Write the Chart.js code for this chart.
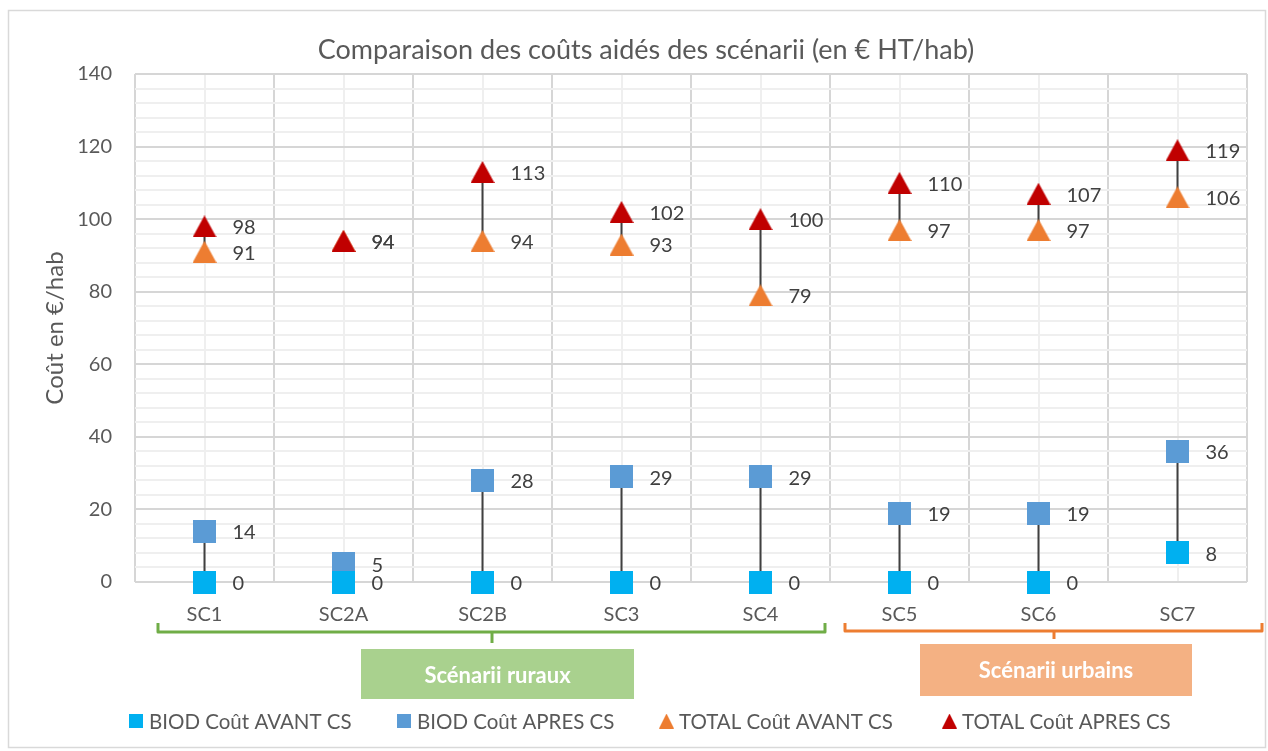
<!DOCTYPE html>
<html><head><meta charset="utf-8">
<script src="https://cdn.jsdelivr.net/npm/chart.js@4/dist/chart.umd.min.js"></script>
<style>html,body{margin:0;padding:0;background:#fff}#wrap{width:1268px;height:751px;position:relative}</style>
</head><body><div id="wrap"><canvas id="c"></canvas></div>
<script>
const categories = ['SC1','SC2A','SC2B','SC3','SC4','SC5','SC6','SC7'];
const biodAvant  = [0, 0, 0, 0, 0, 0, 0, 8];
const biodApres  = [14, 5, 28, 29, 29, 19, 19, 36];
const totalAvant = [91, 94, 94, 93, 79, 97, 97, 106];
const totalApres = [98, 94, 113, 102, 100, 110, 107, 119];
const yTickLabels = [0, 20, 40, 60, 80, 100, 120, 140];
const seriesNames = ['BIOD Coût AVANT CS','BIOD Coût APRES CS','TOTAL Coût AVANT CS','TOTAL Coût APRES CS'];
const groupLabels = ['Scénarii ruraux','Scénarii urbains'];
const chartTitle = 'Comparaison des coûts aidés des scénarii (en € HT/hab)';
const yTitle = 'Coût en €/hab';

const COL = {cyan:'#00b0f0', blue:'#5b9bd5', orange:'#ed7d31', red:'#c00000'};
const FONT = 'Lato';
const TXT = '#595959';

function marker(shape, color, w, h){
  const c = document.createElement('canvas'); c.width = w; c.height = h;
  const x = c.getContext('2d'); x.fillStyle = color;
  if (shape === 'sq') x.fillRect(0,0,w,h);
  else { x.beginPath(); x.moveTo(w/2,0); x.lineTo(w,h); x.lineTo(0,h); x.closePath(); x.fill(); }
  return c;
}
const styles = [marker('sq',COL.cyan,23,23), marker('sq',COL.blue,23,23), marker('tri',COL.orange,24,22), marker('tri',COL.red,24,22)];
const legendStyles = [marker('sq',COL.cyan,14,14), marker('sq',COL.blue,14,14), marker('tri',COL.orange,15,15), marker('tri',COL.red,15,15)];
const seriesVals = [biodAvant, biodApres, totalAvant, totalApres];

const pts = arr => arr.map((v,i)=>({x:i,y:v}));
const conn = (a,b) => a.flatMap((v,i)=>[{x:i,y:a[i]},{x:i,y:b[i]},{x:i,y:null}]);

const markerOrders = [1,2,2,1];
const datasets = seriesVals.map((arr,k)=>({
  label: seriesNames[k], data: pts(arr), pointStyle: styles[k], pointRadius: 11,
  showLine:false, order: markerOrders[k], clip:false
}));
datasets.push({label:'_c1', data: conn(biodAvant, biodApres), showLine:true, pointRadius:0, borderColor:'#404040', borderWidth:2, spanGaps:false, order:5, clip:false});
datasets.push({label:'_c2', data: conn(totalAvant, totalApres), showLine:true, pointRadius:0, borderColor:'#404040', borderWidth:2, spanGaps:false, order:5, clip:false});

const extras = {
  id:'extras',
  beforeDraw(chart){
    const ctx = chart.ctx;
    ctx.save(); ctx.fillStyle='#fff'; ctx.fillRect(0,0,chart.width,chart.height);
    ctx.strokeStyle='#d9d9d9'; ctx.lineWidth=1.5; ctx.strokeRect(8.5,10.5,1257,737);
    ctx.restore();
  },
  afterDatasetsDraw(chart){
    const ctx = chart.ctx; ctx.save();
    ctx.font = `20px ${FONT}`; ctx.fillStyle='#404040'; ctx.textAlign='left'; ctx.textBaseline='middle';
    for (let k=0;k<4;k++){
      const meta = chart.getDatasetMeta(k);
      meta.data.forEach((p,i)=>{ ctx.fillText(String(seriesVals[k][i]), p.x+28, p.y+1.5); });
    }
    ctx.restore();
  },
  afterDraw(chart){
    const ctx = chart.ctx; ctx.save();
    // title
    ctx.font = `27px ${FONT}`; ctx.fillStyle=TXT; ctx.textAlign='center'; ctx.textBaseline='middle';
    ctx.fillText(chartTitle, 646, 50);
    // brackets
    ctx.lineWidth=3; ctx.lineJoin='round'; ctx.lineCap='butt';
    ctx.strokeStyle='#70ad47';
    ctx.beginPath(); ctx.moveTo(158,623); ctx.lineTo(158,632); ctx.lineTo(825,632); ctx.lineTo(825,623); ctx.stroke();
    ctx.beginPath(); ctx.moveTo(492,632); ctx.lineTo(492,643); ctx.stroke();
    ctx.strokeStyle='#ed7d31';
    ctx.beginPath(); ctx.moveTo(845,623); ctx.lineTo(845,631); ctx.lineTo(1262,631); ctx.lineTo(1262,623); ctx.stroke();
    ctx.beginPath(); ctx.moveTo(1054,631); ctx.lineTo(1054,639); ctx.stroke();
    // boxes
    ctx.fillStyle='#a9d18e'; ctx.fillRect(361,649,273,50);
    ctx.fillStyle='#f4b183'; ctx.fillRect(920,644,272,52);
    ctx.font = `bold 22px ${FONT}`; ctx.fillStyle='#fff';
    ctx.fillText(groupLabels[0], 497.5, 676);
    ctx.fillText(groupLabels[1], 1056, 671);
    // legend
    const lx = [129, 397, 659, 942];
    ctx.font = `20.5px ${FONT}`; ctx.textAlign='left';
    for (let k=0;k<4;k++){
      const s = legendStyles[k];
      ctx.drawImage(s, lx[k], 721 - s.height/2);
      ctx.fillStyle=TXT; ctx.fillText(seriesNames[k], lx[k]+20, 722);
    }
    ctx.restore();
  }
};

const isInt = v => Math.abs(v - Math.round(v)) < 1e-9;

function build(){
  new Chart(document.getElementById('c'), {
    type:'scatter',
    data:{datasets},
    options:{
      responsive:true, maintainAspectRatio:false, animation:false, events:[],
      layout:{padding:{top:74,right:14,bottom:0,left:0}},
      plugins:{legend:{display:false}, tooltip:{enabled:false}, title:{display:false}},
      scales:{
        x:{type:'linear', min:-0.5, max:7.5,
          afterFit(s){ s.height = 169; },
          border:{display:false},
          grid:{drawTicks:false, lineWidth:2, color: c => isInt(c.tick.value) ? '#efefef' : '#d6d6d6'},
          ticks:{stepSize:0.5, autoSkip:false, maxRotation:0, padding:21, color:TXT, font:{family:FONT,size:20},
            callback: v => isInt(v) && categories[Math.round(v)] !== undefined ? categories[Math.round(v)] : ''}
        },
        y:{type:'linear', min:0, max:140,
          afterFit(s){ s.width = 135; },
          border:{display:false},
          grid:{drawTicks:false, lineWidth:2, color: c => (c.tick.value % 20 === 0) ? '#d6d6d6' : '#efefef'},
          ticks:{stepSize:4, autoSkip:false, padding:23, color:TXT, font:{family:FONT,size:20},
            callback: v => yTickLabels.includes(v) ? String(v) : ''},
          title:{display:true, text:yTitle, color:TXT, font:{family:FONT,size:24}, padding:{top:41,bottom:0}}
        }
      }
    },
    plugins:[extras]
  });
}
if (document.fonts && document.fonts.load) {
  Promise.all([document.fonts.load(`20px ${FONT}`), document.fonts.load(`bold 20px ${FONT}`)]).then(build, build);
} else build();
</script>
</body></html>
